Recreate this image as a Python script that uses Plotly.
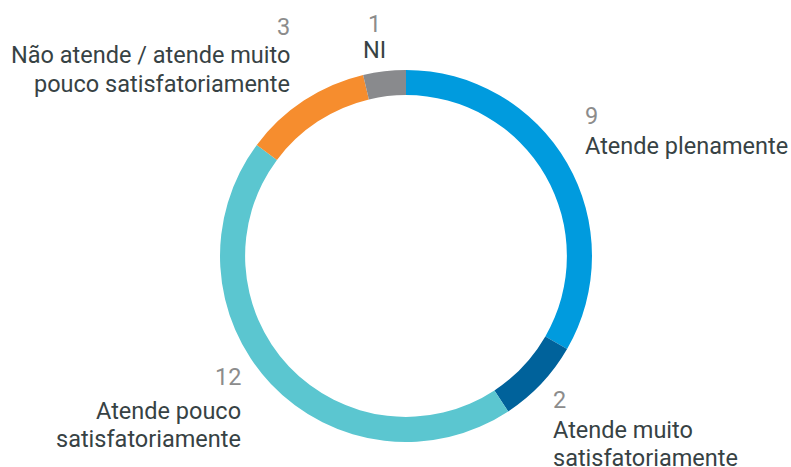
import plotly.graph_objects as go

categories = ["Atende plenamente", "Atende muito satisfatoriamente",
              "Atende pouco satisfatoriamente",
              "Não atende / atende muito pouco satisfatoriamente", "NI"]
values = [9, 2, 12, 3, 1]
label_lines = [["Atende plenamente"], ["Atende muito", "satisfatoriamente"],
               ["Atende pouco", "satisfatoriamente"],
               ["Não atende / atende muito", "pouco satisfatoriamente"], ["NI"]]
colors = ["#009BDE", "#00629B", "#5BC6D0", "#F68D2E", "#898A8D"]

W, H = 791, 467

fig = go.Figure(go.Pie(
    labels=categories, values=values, sort=False, direction="clockwise",
    rotation=0, hole=0.865, textinfo="none", hoverinfo="label+value",
    marker=dict(colors=colors, line=dict(width=0)),
    domain=dict(x=[(406 - 186) / W, (406 + 186) / W],
                y=[(H - 256 - 186) / H, (H - 256 + 186) / H]),
    showlegend=False,
))

# label layout: (x px, anchor, number center y px, first label line center y px, line step)
label_pos = [
    (583, "left", 116, 146, 29),
    (551, "left", 400, 430, 28),
    (243, "right", 377, 411, 28),
    (292, "right", 27, 55, 29),
    (374, "center", 24, 50, 28),
]

annotations = []
for v, lines, (px, anchor, ny, ly, step) in zip(values, label_lines, label_pos):
    annotations.append(dict(
        x=px / W, y=1 - ny / H, xref="paper", yref="paper", text=str(v),
        showarrow=False, xanchor=anchor, yanchor="middle",
        font=dict(family="Roboto", size=23.5, color="#8C8C8C")))
    for i, line in enumerate(lines):
        annotations.append(dict(
            x=px / W, y=1 - (ly + i * step) / H, xref="paper", yref="paper",
            text=line, showarrow=False, xanchor=anchor, yanchor="middle",
            font=dict(family="Roboto", size=23.5, color="#374244")))

fig.update_layout(
    width=W, height=H, margin=dict(l=0, r=0, t=0, b=0),
    paper_bgcolor="white", plot_bgcolor="white",
    annotations=annotations,
)

fig.write_html("out.html", config={"displayModeBar": False},
               post_script="document.body.style.margin='0';document.body.style.overflow='hidden';")
